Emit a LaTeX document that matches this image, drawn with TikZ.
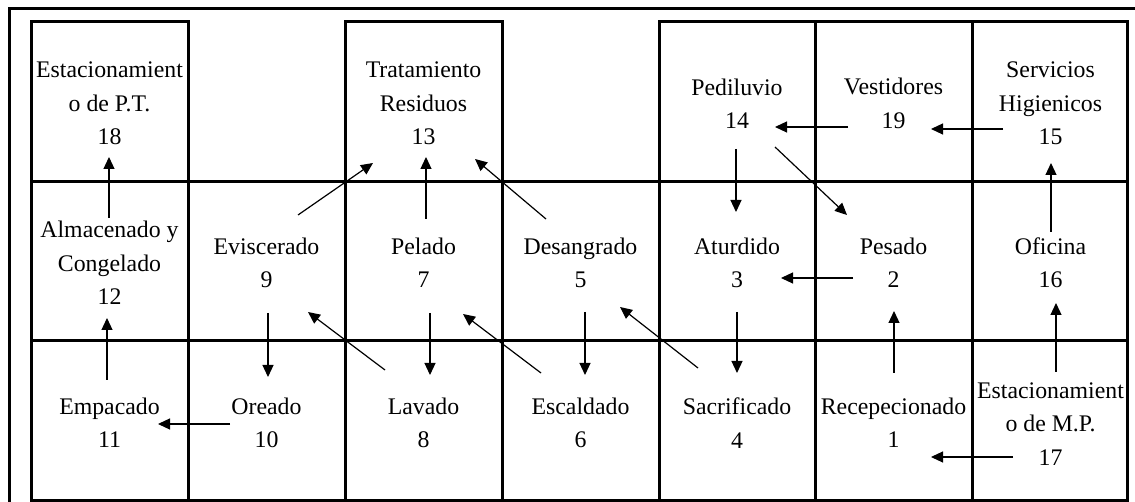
\documentclass[tikz,border=0pt]{standalone}
\usepackage{fontspec}
\setmainfont{Liberation Serif}
\usetikzlibrary{arrows.meta}
\begin{document}
\begin{tikzpicture}[x=1pt,y=-1pt,
  grid/.style={line width=3pt,line cap=rect},
  arr/.style={line width=1.2pt,-{Triangle[length=12pt,width=11pt]}},
  lbl/.style={align=center,inner sep=0pt,font=\fontsize{23.8}{33.3}\selectfont}]
\useasboundingbox (0,0) rectangle (1135,502);
\fill[white] (0,0) rectangle (1135,502);
\clip (0,0) rectangle (1135,502);
% outer frame
\draw[grid] (9.5,8.3) rectangle (1150,520);
% grid: middle and bottom rows
\draw[grid] (31,182) rectangle (1127,500);
\draw[grid] (31,341) -- (1127,341);
\foreach \x in {188,345,502,659,815,972} \draw[grid] (\x,182) -- (\x,500);
% top row boxes
\draw[grid] (31,182) -- (31,22) -- (188,22) -- (188,182);
\draw[grid] (345,182) -- (345,22) -- (502,22) -- (502,182);
\draw[grid] (659,182) -- (659,22) -- (1127,22) -- (1127,182);
\draw[grid] (815,22) -- (815,182);
\draw[grid] (972,22) -- (972,182);
% labels
\node[lbl] (n18) at (109.5,103.5) {Estacionamient\\o de P.T.\\18};
\node[lbl] (n13) at (423.5,103.5) {Tratamiento\\Residuos\\13};
\node[lbl] (n14) at (737,103.5) {Pediluvio\\14};
\node[lbl] (n19) at (893.5,103.5) {Vestidores\\19};
\node[lbl] (n15) at (1050.5,103.5) {Servicios\\Higienicos\\15};
\node[lbl] (n12) at (109.5,263) {Almacenado y\\Congelado\\12};
\node[lbl] (n9) at (266.5,263) {Eviscerado\\9};
\node[lbl] (n7) at (423.5,263) {Pelado\\7};
\node[lbl] (n5) at (580.5,263) {Desangrado\\5};
\node[lbl] (n3) at (737,263) {Aturdido\\3};
\node[lbl] (n2) at (893.5,263) {Pesado\\2};
\node[lbl] (n16) at (1050.5,263) {Oficina\\16};
\node[lbl] (n11) at (109.5,423) {Empacado\\11};
\node[lbl] (n10) at (266.5,423) {Oreado\\10};
\node[lbl] (n8) at (423.5,423) {Lavado\\8};
\node[lbl] (n6) at (580.5,423) {Escaldado\\6};
\node[lbl] (n4) at (737,423) {Sacrificado\\4};
\node[lbl] (n1) at (893.5,423) {Recepecionado\\1};
\node[lbl] (n17) at (1050.5,424) {Estacionamient\\o de M.P.\\17};
% connector end points
\coordinate (a1s) at (109,218);  \coordinate (a1e) at (109,157);
\coordinate (a2s) at (107,380);  \coordinate (a2e) at (107,318);
\coordinate (a3s) at (230,424);  \coordinate (a3e) at (158,424);
\coordinate (a4s) at (268,313);  \coordinate (a4e) at (268,377);
\coordinate (a5s) at (385,370);  \coordinate (a5e) at (308,312);
\coordinate (a6s) at (298,215);  \coordinate (a6e) at (373,163);
\coordinate (a7s) at (426,219);  \coordinate (a7e) at (426,157);
\coordinate (a8s) at (546,219);  \coordinate (a8e) at (475,159);
\coordinate (a9s) at (430,313);  \coordinate (a9e) at (430,375);
\coordinate (a10s) at (541,373); \coordinate (a10e) at (463,314);
\coordinate (a11s) at (585,312); \coordinate (a11e) at (585,375);
\coordinate (a12s) at (698,368); \coordinate (a12e) at (620,307);
\coordinate (a13s) at (737,312); \coordinate (a13e) at (737,373);
\coordinate (a14s) at (736,149); \coordinate (a14e) at (736,212);
\coordinate (a15s) at (775,147); \coordinate (a15e) at (847,215);
\coordinate (a16s) at (853,278); \coordinate (a16e) at (781,278);
\coordinate (a17s) at (894,373); \coordinate (a17e) at (894,311);
\coordinate (a18s) at (1056,372); \coordinate (a18e) at (1056,303);
\coordinate (a19s) at (1051,232); \coordinate (a19e) at (1051,163);
\coordinate (a20s) at (1003,129); \coordinate (a20e) at (931,129);
\coordinate (a21s) at (848,127); \coordinate (a21e) at (775,127);
\coordinate (a22s) at (1013,457); \coordinate (a22e) at (931,457);
\foreach \i in {1,...,22} \draw[arr] (a\i s) -- (a\i e);
\end{tikzpicture}
\end{document}
